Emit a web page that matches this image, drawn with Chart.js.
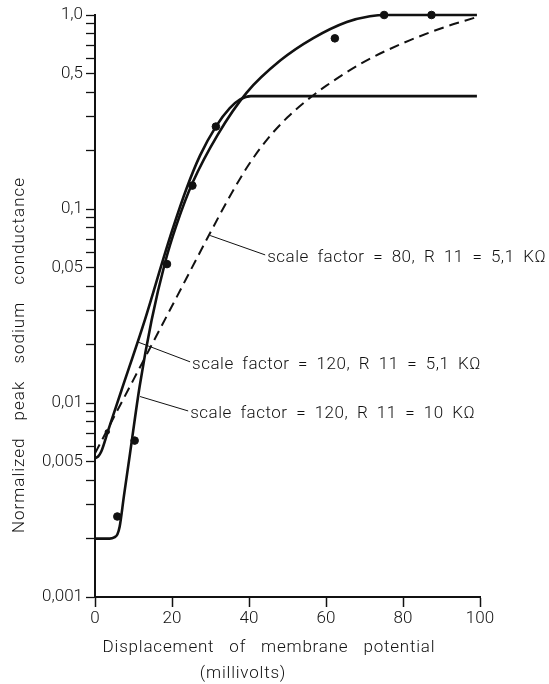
<!DOCTYPE html>
<html>
<head>
<meta charset="utf-8">
<script src="https://cdn.jsdelivr.net/npm/chart.js@4"></script>
<style>
  html, body { margin: 0; padding: 0; background: #fff; }
  #wrap { width: 549px; height: 684px; position: relative; }
</style>
</head>
<body>
<div id="wrap"><canvas id="chart"></canvas></div>
<script>
// curve: scale factor 120, R11 = 10 K (solid, up to 1.0)
const xSf120R10 = [0, 3.8, 5.0, 5.8, 6.4, 7.5, 9.1, 11.6, 14.7, 18.2, 21.2, 25.3, 31.9, 39.4, 48.1, 56.7, 65.4, 71.4, 76.0, 99.2];
const ySf120R10 = [0.002, 0.002, 0.00203, 0.0021, 0.0023, 0.0033, 0.0055, 0.0122, 0.0267, 0.053, 0.083, 0.136, 0.242, 0.398, 0.582, 0.76, 0.92, 0.986, 1.0, 1.0];

// curve: scale factor 120, R11 = 5,1 K (solid, flat at ~0.38)
const xSf120R5 = [0, 0.8, 1.6, 3.4, 6.8, 13.0, 17.7, 19.9, 23.8, 27.3, 31.4, 35.0, 37.7, 40.5, 99.2];
const ySf120R5 = [0.0052, 0.0053, 0.0056, 0.0072, 0.0115, 0.027, 0.055, 0.076, 0.128, 0.189, 0.266, 0.331, 0.367, 0.382, 0.382];

// curve: scale factor 80, R11 = 5,1 K (dashed)
const xSf80 = [0, 10, 20, 30, 35, 40, 45, 50, 55, 60, 70, 80, 90, 99.1];
const ySf80 = [0.0055, 0.0132, 0.0316, 0.0759, 0.116, 0.17, 0.232, 0.297, 0.363, 0.431, 0.575, 0.716, 0.855, 0.975];

// measured points
const xMeasured = [3.2, 5.8, 10.3, 18.7, 25.3, 31.4, 62.3, 75.1, 87.4];
const yMeasured = [0.0071, 0.0026, 0.0064, 0.052, 0.132, 0.266, 0.758, 1.0, 1.0];

// axis ticks
const xTicks = [0, 20, 40, 60, 80, 100];
const yLabelValues = [0.001, 0.005, 0.01, 0.05, 0.1, 0.5, 1.0];
const yLabelTexts = ['0,001', '0,005', '0,01', '0,05', '0,1', '0,5', '1,0'];
const yMinorValues = [0.002, 0.003, 0.004, 0.006, 0.007, 0.008, 0.009,
                      0.02, 0.03, 0.04, 0.06, 0.07, 0.08, 0.09,
                      0.2, 0.3, 0.4, 0.6, 0.7, 0.8, 0.9];

// labels with leader lines: [text, from x, from y, to x, to y]
const notes = [
    ['scale factor = 80, R 11 = 5,1 KΩ', 29.9, 0.073, 44.2, 0.058],
    ['scale factor = 120, R 11 = 5,1 KΩ', 11.2, 0.0206, 24.7, 0.0163],
    ['scale factor = 120, R 11 = 10 KΩ', 11.7, 0.0108, 24.2, 0.0091]
];

const xTitle = 'Displacement of membrane potential';
const xUnit = '(millivolts)';
const yTitle = 'Normalized peak sodium conductance';

const INK = '#111';
const FONT = 'Roboto, "DejaVu Sans", sans-serif';

function pairs(xs, ys) {
    return xs.map((x, i) => ({ x: x, y: ys[i] }));
}

function curve(xs, ys, dash, width) {
    return {
        type: 'line',
        data: pairs(xs, ys),
        borderColor: INK,
        borderWidth: width,
        borderDash: dash,
        pointRadius: 0,
        cubicInterpolationMode: 'monotone',
        fill: false,
        clip: false
    };
}

// annotations, axis titles
const textPlugin = {
    id: 'texts',
    afterDraw(chart) {
        const ctx = chart.ctx;
        const xs = chart.scales.x;
        const ys = chart.scales.y;
        const area = chart.chartArea;
        ctx.save();
        ctx.fillStyle = INK;
        ctx.strokeStyle = INK;
        ctx.font = '300 17px ' + FONT;
        ctx.letterSpacing = '0.5px';
        ctx.wordSpacing = '4px';
        ctx.textBaseline = 'middle';
        ctx.textAlign = 'left';
        notes.forEach(n => {
            const x1 = xs.getPixelForValue(n[1]), y1 = ys.getPixelForValue(n[2]);
            const x2 = xs.getPixelForValue(n[3]), y2 = ys.getPixelForValue(n[4]);
            ctx.lineWidth = 1;
            ctx.beginPath();
            ctx.moveTo(x1, y1);
            ctx.lineTo(x2, y2);
            ctx.stroke();
            ctx.fillText(n[0], x2 + 2, y2 + 3);
        });

        // x title, two lines
        ctx.textAlign = 'center';
        ctx.letterSpacing = '0.8px';
        ctx.wordSpacing = '10px';
        ctx.fillText(xTitle, area.left + 174, area.bottom + 51);
        ctx.fillText(xUnit, area.left + 148, area.bottom + 77);

        // y title, rotated
        ctx.translate(20, area.top + 340);
        ctx.rotate(-Math.PI / 2);
        ctx.letterSpacing = '1px';
        ctx.wordSpacing = '12px';
        ctx.fillText(yTitle, 0, 0);
        ctx.restore();
    }
};

document.addEventListener('DOMContentLoaded', function() {
    const ctx = document.getElementById('chart').getContext('2d');

    new Chart(ctx, {
        data: {
            datasets: [
                curve(xSf120R10, ySf120R10, [], 2.6),
                curve(xSf120R5, ySf120R5, [], 2.6),
                curve(xSf80, ySf80, [10, 6], 2),
                {
                    type: 'scatter',
                    data: pairs(xMeasured, yMeasured),
                    backgroundColor: INK,
                    borderColor: INK,
                    pointRadius: c => (c.dataIndex === 0 ? 2.2 : 3.8),
                    clip: false
                }
            ]
        },
        options: {
            responsive: true,
            maintainAspectRatio: false,
            animation: false,
            layout: { padding: { top: 15, right: 69, left: 0, bottom: 0 } },
            plugins: {
                legend: { display: false },
                tooltip: { enabled: false }
            },
            scales: {
                x: {
                    type: 'linear',
                    min: 0,
                    max: 100,
                    afterFit: s => { s.height = 87; },
                    afterBuildTicks: s => { s.ticks = xTicks.map(v => ({ value: v })); },
                    border: { display: true, color: INK, width: 2 },
                    grid: { drawOnChartArea: false, drawTicks: true, tickLength: 10, tickColor: INK, tickWidth: 1.5 },
                    ticks: {
                        color: INK,
                        padding: 2,
                        font: { family: FONT, size: 17, weight: 300 },
                        maxRotation: 0
                    }
                },
                y: {
                    type: 'logarithmic',
                    min: 0.001,
                    max: 1.0,
                    afterFit: s => { s.width = 95; },
                    afterBuildTicks: s => {
                        s.ticks = yLabelValues.concat(yMinorValues).sort((a, b) => a - b).map(v => ({ value: v }));
                    },
                    border: { display: true, color: INK, width: 2 },
                    grid: {
                        drawOnChartArea: false,
                        drawTicks: true,
                        tickLength: 9,
                        tickColor: INK,
                        tickWidth: 1.3
                    },
                    ticks: {
                        color: INK,
                        padding: 3,
                        autoSkip: false,
                        font: { family: FONT, size: 17, weight: 300 },
                        callback: function(value) {
                            const i = yLabelValues.findIndex(v => Math.abs(v - value) < value * 1e-6);
                            return i >= 0 ? yLabelTexts[i] : '';
                        }
                    }
                }
            }
        },
        plugins: [textPlugin]
    });
});
</script>
</body>
</html>
